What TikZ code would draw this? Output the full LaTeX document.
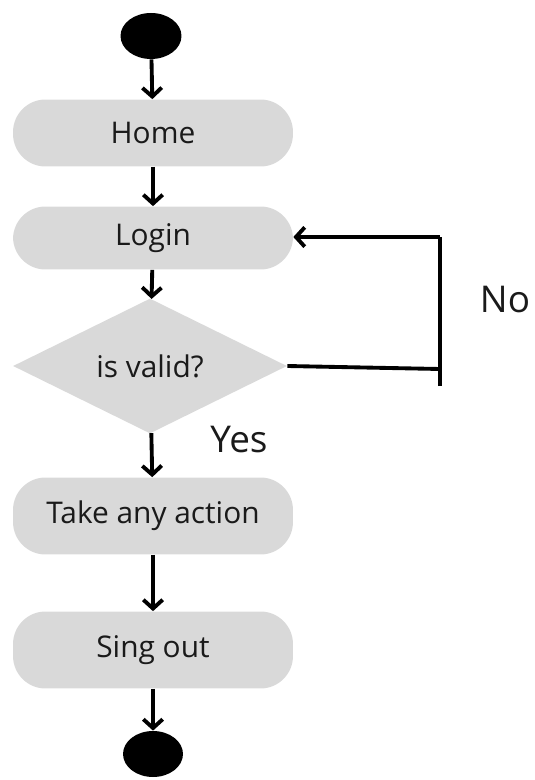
\documentclass[tikz,border=0pt]{standalone}
\usepackage{fontspec}
\setmainfont{Open Sans}
\usepackage{tikz}
\usetikzlibrary{positioning}
\usetikzlibrary{shapes}
\usetikzlibrary{arrows.meta}

\definecolor{boxgray}{HTML}{D9D9D9}
\definecolor{txt}{HTML}{1A1A1A}

\begin{document}
\begin{tikzpicture} [x=0.02cm, y=-0.02cm,
            flow/.style={-{Straight Barb[length=5pt,width=11pt]},line width=2.2pt,black},
            plain/.style={line width=2.2pt,black},
            stepbox/.style={fill=boxgray,rounded corners=0.65cm,minimum width=5.6cm,
                            text=txt,font=\fontsize{17}{20}\selectfont},
            test/.style={diamond,fill=boxgray,inner sep=0pt,aspect=2,minimum width=5.48cm,
                         minimum height=2.7cm,text=txt,font=\fontsize{17}{20}\selectfont},
            dot/.style={ellipse,fill=black,inner sep=0pt,minimum width=1.22cm,minimum height=0.92cm},
            answer/.style={text=txt,font=\fontsize{21}{25}\selectfont},
         every node/.append style={align=center}]

\useasboundingbox (0,0) rectangle (534,780);

%start
\node (start) at (151,36) [dot] {};

%Home
\node (home) at (153,133) [stepbox,minimum height=1.34cm] {Home};
\draw [flow] (start) -- (home);

%Login
\node (login) at (153,238) [stepbox,minimum height=1.26cm] {Login};
\draw [flow] (home) -- (login);

%check
\node (valid) at (150,366) [test] {is valid?};
\draw [flow] (login) -- (valid);

% loop back
\coordinate (lpTop) at (440,237);
\coordinate (lpMid) at (440,369);
\coordinate (lpBot) at (440,386);
\draw [plain] (valid.east) -- (lpMid);
\draw [plain] (lpBot) -- (lpTop);
\draw [flow] (lpTop) -- (login.east |- lpTop);
\node (no) at (505,300) [answer] {No};

%action
\node (act) at (153,516) [stepbox,minimum height=1.54cm] {Take any action};
\draw [flow] (valid) -- (act);
\node (yes) at (239,440) [answer] {Yes};

%Sing out
\node (out) at (153,650) [stepbox,minimum height=1.54cm] {Sing out};
\draw [flow] (act) -- (out);

%end
\node (stop) at (153,754) [dot,minimum width=1.2cm] {};
\draw [flow] (out) -- (stop);

\end{tikzpicture}
\end{document}
